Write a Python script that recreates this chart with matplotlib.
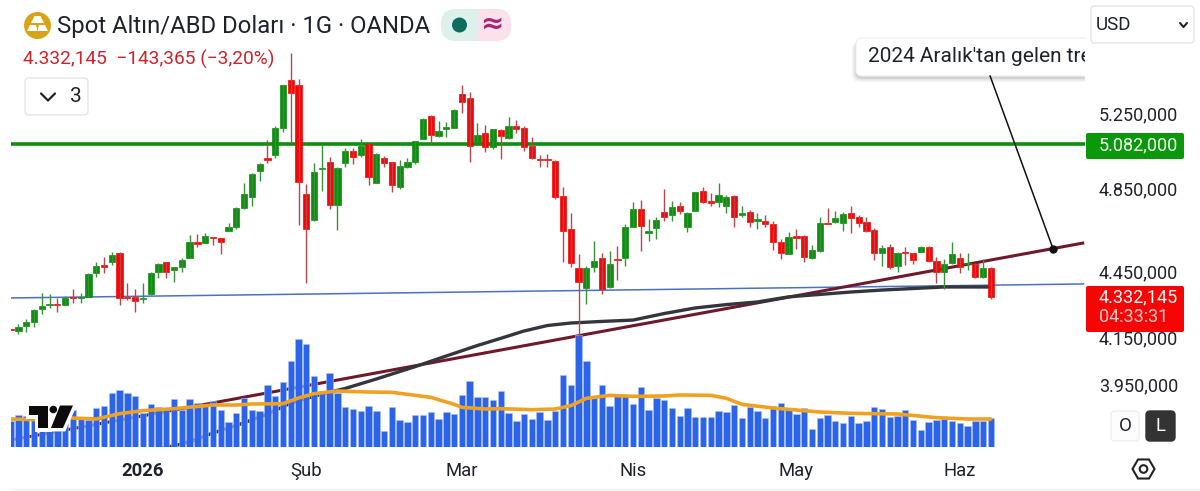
import matplotlib
matplotlib.use("Agg")
import matplotlib.pyplot as plt
from matplotlib.lines import Line2D
from matplotlib.patches import Circle, FancyBboxPatch, Polygon, Rectangle, RegularPolygon
from matplotlib.transforms import Affine2D

plt.rcParams["font.family"] = ["Roboto", "DejaVu Sans"]

opens = [4187, 4179, 4200, 4218, 4276, 4295, 4299, 4295, 4331, 4326, 4331, 4441, 4478, 4492, 4535, 4330,
         4331, 4322, 4344, 4445, 4492, 4455, 4469, 4511, 4587, 4582, 4611, 4607, 4641, 4660, 4754, 4809,
         4942, 5009, 5025, 5169, 5435, 5407, 4824, 4694, 4952, 4988, 4769, 4983, 5046, 5025, 5083, 4880,
         5009, 4988, 4860, 4962, 4988, 5110, 5234, 5126, 5164, 5169, 5356, 5334, 5094, 5142, 5067, 5158,
         5115, 5180, 5169, 5072, 5004, 5004, 4994, 4814, 4650, 4464, 4371, 4469, 4511, 4376, 4507, 4511,
         4660, 4749, 4631, 4655, 4734, 4719, 4764, 4660, 4739, 4839, 4789, 4784, 4764, 4814, 4719, 4734,
         4689, 4689, 4674, 4587, 4530, 4616, 4616, 4511, 4544, 4679, 4684, 4679, 4729, 4709, 4684, 4646,
         4535, 4563, 4474, 4539, 4535, 4539, 4563, 4497, 4445, 4488, 4511, 4483, 4483, 4422, 4464]
highs = [4187, 4209, 4231, 4276, 4348, 4344, 4326, 4335, 4367, 4348, 4441, 4492, 4516, 4539, 4539, 4394,
         4367, 4394, 4445, 4488, 4492, 4469, 4511, 4621, 4626, 4631, 4611, 4607, 4679, 4759, 4880, 4931,
         4983, 5104, 5180, 5407, 5592, 5441, 4875, 4983, 5083, 5014, 4962, 5061, 5061, 5110, 5088, 5035,
         5019, 4988, 4999, 5009, 5099, 5223, 5239, 5207, 5201, 5272, 5407, 5368, 5196, 5185, 5164, 5164,
         5228, 5212, 5180, 5120, 5025, 5030, 4999, 4860, 4729, 4530, 4474, 4592, 4535, 4544, 4568, 4674,
         4784, 4794, 4699, 4709, 4849, 4789, 4784, 4734, 4834, 4860, 4829, 4880, 4819, 4819, 4764, 4744,
         4729, 4719, 4689, 4602, 4636, 4650, 4621, 4573, 4709, 4754, 4739, 4734, 4764, 4719, 4709, 4655,
         4573, 4578, 4539, 4563, 4535, 4568, 4568, 4516, 4507, 4587, 4535, 4535, 4488, 4507, 4469]
lows = [4183, 4165, 4174, 4196, 4254, 4281, 4263, 4295, 4304, 4304, 4331, 4422, 4441, 4478, 4295, 4317,
        4263, 4304, 4340, 4417, 4417, 4399, 4445, 4511, 4563, 4582, 4573, 4530, 4641, 4650, 4749, 4764,
        4890, 4983, 5009, 5147, 5088, 4670, 4394, 4689, 4839, 4749, 4646, 4962, 4978, 5014, 4870, 4880,
        4962, 4834, 4849, 4957, 4978, 5110, 5083, 5120, 5120, 5169, 5250, 4988, 5094, 5041, 5056, 5004,
        5110, 5142, 5046, 5004, 4962, 4962, 4799, 4492, 4469, 4140, 4299, 4445, 4344, 4371, 4408, 4474,
        4660, 4544, 4592, 4602, 4689, 4689, 4724, 4636, 4739, 4779, 4764, 4759, 4729, 4660, 4709, 4660,
        4650, 4660, 4549, 4507, 4530, 4554, 4492, 4507, 4539, 4674, 4679, 4641, 4631, 4660, 4636, 4502,
        4474, 4460, 4445, 4478, 4483, 4539, 4492, 4394, 4367, 4483, 4441, 4455, 4417, 4417, 4322]
closes = [4183, 4196, 4218, 4272, 4290, 4299, 4295, 4326, 4326, 4331, 4436, 4474, 4469, 4525, 4326, 4326,
          4313, 4326, 4441, 4483, 4445, 4469, 4502, 4587, 4578, 4616, 4607, 4587, 4660, 4754, 4824, 4926,
          4978, 4999, 5169, 5407, 5362, 4885, 4650, 4937, 4957, 4769, 4957, 5046, 5014, 5072, 4911, 5030,
          4983, 4870, 4968, 4988, 5099, 5217, 5131, 5153, 5174, 5267, 5312, 5072, 5131, 5067, 5164, 5126,
          5180, 5164, 5067, 5009, 4999, 4999, 4809, 4641, 4488, 4399, 4464, 4497, 4367, 4483, 4502, 4660,
          4749, 4665, 4641, 4694, 4709, 4759, 4739, 4729, 4834, 4784, 4779, 4819, 4809, 4709, 4729, 4684,
          4699, 4674, 4587, 4535, 4611, 4607, 4516, 4549, 4679, 4674, 4704, 4724, 4704, 4679, 4641, 4535,
          4558, 4469, 4535, 4535, 4502, 4563, 4497, 4445, 4483, 4530, 4469, 4488, 4422, 4464, 4332.145]
volumes = [77, 96, 92, 80, 75, 75, 75, 75, 112, 87, 82, 118, 124, 161, 170, 163,
           153, 102, 129, 120, 112, 145, 112, 143, 131, 130, 137, 112, 74, 102, 148, 112,
           108, 185, 153, 194, 258, 324, 308, 213, 167, 222, 162, 119, 113, 109, 123, 108,
           49, 119, 80, 75, 97, 95, 104, 85, 104, 99, 156, 197, 149, 150, 140, 169,
           102, 77, 98, 85, 105, 82, 109, 215, 187, 337, 257, 147, 187, 124, 152, 152,
           129, 179, 112, 147, 141, 116, 94, 116, 91, 91, 91, 109, 106, 127, 86, 120,
           108, 87, 122, 133, 111, 98, 118, 54, 86, 95, 79, 73, 94, 73, 78, 120,
           114, 90, 94, 110, 82, 50, 74, 80, 84, 78, 73, 64, 78, 78, 86]

# average lines, read at a handful of bars
vol_ma_bars = [0, 3, 8, 11, 14, 17, 21, 26, 29, 31, 35, 37, 39, 42, 46, 49, 54, 57, 58, 61, 63, 67, 70,
               72, 74, 77, 80, 84, 86, 90, 92, 94, 98, 104, 108, 114, 119, 123, 126]
vol_ma = [84, 82, 87, 84, 100, 109, 115, 126, 126, 129, 130, 147, 160, 168, 165, 164, 149, 128, 119, 114, 115, 112, 114,
          124, 146, 155, 152, 153, 156, 155, 146, 128, 117, 105, 101, 99, 88, 84, 84]
sma_bars = [19, 20, 22, 24, 26, 28, 30, 33, 36, 40, 43, 47, 52, 56, 60, 63, 66, 69, 72, 76, 80, 84, 88,
            92, 96, 100, 104, 108, 112, 116, 120, 126]
sma = [3697, 3699, 3713, 3732, 3756, 3775, 3796, 3831, 3875, 3912, 3935, 3974, 4026, 4071, 4116, 4147, 4179,
       4203, 4214, 4221, 4227, 4256, 4281, 4296, 4308, 4331, 4342, 4353, 4362, 4369, 4376, 4376]

trend_x = [0, 138]
trend_y = [3728, 4583]
blue_x = [0, 138]
blue_y = [4326, 4390]
resistance = 5082
note_x = [125.9, 134]
note_y = [5458, 4554]

price_ticks = [5250, 4850, 4450, 4150, 3950]
price_labels = ["5.250,000", "4.850,000", "4.450,000", "4.150,000", "3.950,000"]
month_ticks = [16.9, 38, 58, 80, 101, 122]
month_labels = ["2026", "Şub", "Mar", "Nis", "May", "Haz"]

UP = "#0a8f0e"
DOWN = "#f70505"
W, H = 1200, 491

fig = plt.figure(figsize=(12, 4.91), dpi=100, facecolor="white")
px = Affine2D().scale(1, -1).translate(0, H)

rect = [11 / W, 1 - 447 / H, (1085 - 11) / W, (447 - 30) / H]
ax = fig.add_axes(rect, zorder=1)
ax_vol = fig.add_axes(rect, zorder=2, sharex=ax)
ax_top = fig.add_axes(rect, zorder=3, sharex=ax)
for a in (ax, ax_vol, ax_top):
    a.patch.set_visible(False)
    for s in a.spines.values():
        s.set_visible(False)

ax.set_yscale("log")
ax_top.set_yscale("log")
ax.set_xlim(0.04, 138.1)
ax.set_ylim(3701, 5727)
ax_top.set_ylim(3701, 5727)
ax_vol.set_ylim(0, 1251)
ax_vol.axis("off")
ax_top.axis("off")

ax.set_yticks(price_ticks)
ax.set_yticklabels(price_labels, fontsize=13, color="#1e222d")
ax.minorticks_off()
ax.yaxis.tick_right()
ax.tick_params(axis="y", length=0, pad=10)
ax.set_xticks(month_ticks)
ax.set_xticklabels(month_labels, fontsize=13.3, color="#1e222d")
ax.get_xticklabels()[0].set_fontweight("bold")
ax.tick_params(axis="x", length=0, pad=11)

# lines that sit behind the volume bars
ax.plot(blue_x, blue_y, color="#4a72c0", lw=1.1, solid_capstyle="butt")
ax.plot(trend_x, trend_y, color="#6e1a2b", lw=2.2, solid_capstyle="butt")
ax.plot(sma_bars, sma, color="#33373d", lw=2.4, solid_capstyle="round")
ax.axhline(resistance, color="#0c8f0c", lw=2.6)

bars = list(range(len(closes)))
ax_vol.bar(bars, volumes, width=0.82, color="#2b63ea", edgecolor="#a9c3f7", linewidth=0.4)
ax_vol.plot(vol_ma_bars, vol_ma, color="#f0a122", lw=2.6, solid_capstyle="round")

colors = [UP if c >= o else DOWN for o, c in zip(opens, closes)]
wick_colors = ["#3b8f3b" if c == UP else "#b8474c" for c in colors]
ax_top.vlines(bars, lows, highs, colors=wick_colors, lw=1.0)
body_low = [min(o, c) for o, c in zip(opens, closes)]
body_size = [abs(o - c) for o, c in zip(opens, closes)]
ax_top.bar(bars, body_size, bottom=body_low, width=0.8, color=colors, edgecolor=colors, linewidth=0.5)

# trend note, cut off at the edge of the pane
ax_top.plot(note_x, note_y, color="#111111", lw=1.1)
ax_top.plot(note_x[1], note_y[1], "o", color="#111111", ms=5)
for grow, alpha in ((4, 0.04), (2.5, 0.06), (1, 0.08)):
    ax_top.add_patch(FancyBboxPatch((856 - grow, 42), 240 + 2 * grow, 36 + grow, boxstyle="round,pad=0,rounding_size=7",
                                    transform=px, fc="black", ec="none", alpha=alpha))
ax_top.add_patch(FancyBboxPatch((856, 38), 240, 38, boxstyle="round,pad=0,rounding_size=6",
                                transform=px, fc="white", ec="#eeeeee", lw=0.8))
ax_top.text(868, 56.5, "2024 Aralık'tan gelen trend", transform=px, fontsize=15, color="#1e222d",
            va="center", ha="left", clip_on=True)

# TradingView mark over the volume pane
logo_t = [(28.5, 405.5), (47.5, 405.5), (47.5, 428), (37.5, 428), (37.5, 415), (28.5, 415)]
logo_s = [(60, 405.5), (73, 405.5), (63, 428), (51, 428)]
for pts in (logo_t, logo_s):
    ax_top.add_patch(Polygon(pts, closed=True, transform=px, fc="white", ec="white", lw=5, zorder=5))
ax_top.add_patch(Circle((53.3, 409.5), 5.5, transform=px, fc="white", ec="white", lw=5, zorder=5))
for pts in (logo_t, logo_s):
    ax_top.add_patch(Polygon(pts, closed=True, transform=px, fc="#0b0b0b", ec="none", zorder=6))
ax_top.add_patch(Circle((53.3, 409.5), 3.8, transform=px, fc="#0b0b0b", ec="none", zorder=6))


def add(artist):
    artist.set_transform(px)
    artist.set_zorder(10)
    fig.add_artist(artist)


def text(x, y, s, **kw):
    kw.setdefault("va", "center")
    kw.setdefault("color", "#1e222d")
    fig.text(x, y, s, transform=px, zorder=11, **kw)


def button(x, y, w, h, fc="white", ec="#e6e6e6"):
    add(FancyBboxPatch((x, y), w, h, boxstyle="round,pad=0,rounding_size=4", fc=fc, ec=ec, lw=1))


def chevron(x, y, w, d, lw):
    add(Line2D([x - w, x, x + w], [y - d, y + d, y - d], color="#1e222d", lw=lw, solid_capstyle="round"))


# header
add(Circle((37.5, 25.5), 13.5, fc="#d9a316", ec="none"))
add(Polygon([(34.5, 16), (40.5, 16), (44, 23), (31, 23)], closed=True, fc="white", ec="none"))
add(Polygon([(27, 31), (30, 25), (36, 25), (37.5, 31)], closed=True, fc="white", ec="none"))
add(Polygon([(37.5, 31), (39, 25), (45, 25), (48, 31)], closed=True, fc="white", ec="none"))
text(57, 26, "Spot Altın/ABD Doları · 1G · OANDA", fontsize=17.2)
add(FancyBboxPatch((441, 9), 70, 32, boxstyle="round,pad=0,rounding_size=15", fc="#dcf0ec", ec="none"))
add(FancyBboxPatch((477, 9), 34, 32, boxstyle="round,pad=0,rounding_size=15", fc="#fae1ec", ec="none"))
add(Rectangle((477, 9), 14, 32, fc="#fae1ec", ec="none"))
add(Circle((459.5, 25), 7.5, fc="#0f6b5e", ec="none"))
text(492.5, 24, "≈", fontsize=20, color="#a8296e", fontweight="bold", ha="center", family="DejaVu Sans")
text(23, 59, "4.332,145  −143,365 (−3,20%)", fontsize=13.8, color="#c9252b")

button(25, 78, 63, 37)
chevron(48, 97, 7, 3.5, 1.6)
text(70, 97, "3", fontsize=15)

# right hand column
button(1091, 6, 103, 37)
text(1096, 25, "USD", fontsize=13.5)
chevron(1183.5, 25, 3.5, 2, 1.5)

add(FancyBboxPatch((1086, 133), 98, 26, boxstyle="round,pad=0,rounding_size=2", fc="#0b980b", ec="none"))
text(1099, 145, "5.082,000", fontsize=13, color="#f4fff4")
add(FancyBboxPatch((1086, 286), 98, 46, boxstyle="round,pad=0,rounding_size=2", fc="#f70505", ec="none"))
text(1099, 297, "4.332,145", fontsize=13, color="#fff4f4")
text(1099, 317, "04:33:31", fontsize=13, color="#ffcaca")

button(1111, 411, 28, 30, fc="#fdfdfd", ec="#eeeeee")
text(1125, 426, "O", fontsize=13.5, ha="center")
button(1146, 411, 29, 30, fc="#333333", ec="#333333")
text(1160.5, 426, "L", fontsize=13.5, ha="center", color="white")

add(RegularPolygon((1143.5, 469), 6, radius=11, orientation=0.5236, fc="white", ec="#222222", lw=1.5))
add(Circle((1143.5, 469), 3.8, fc="white", ec="#222222", lw=1.5))

add(Line2D([11, 1200], [489, 489], color="#f0f0f0", lw=1))

fig.savefig("out.png", dpi=100, facecolor="white")
